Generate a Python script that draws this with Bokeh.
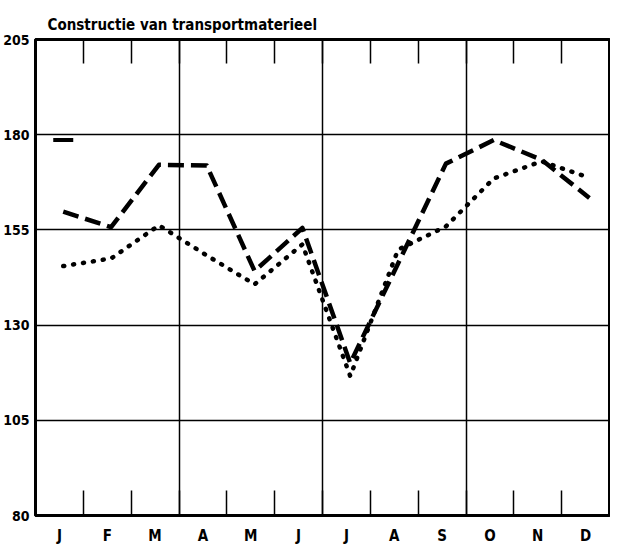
from bokeh.plotting import figure
from bokeh.models import FixedTicker, LinearAxis, Range1d, Grid
from bokeh.embed import file_html
from bokeh.resources import INLINE

# ---- data -------------------------------------------------------------
title_text = "Constructie van transportmaterieel"
months = ["J", "F", "M", "A", "M", "J", "J", "A", "S", "O", "N", "D"]
series_dashed = [159.8, 155.7, 172.1, 171.9, 144.2, 155.5, 120.0, 146.2, 172.4, 178.6, 173.4, 163.4]
series_dotted = [145.5, 147.5, 156.2, 148.3, 140.7, 151.2, 116.6, 149.8, 155.9, 168.5, 173.0, 168.7]
reference_level = [178.6]          # short bar drawn at January
y_ticks = [80, 105, 130, 155, 180, 205]
quarter_bounds = [3, 6, 9]         # month index where a new quarter starts

# ---- derived positions ------------------------------------------------
FONT = "DejaVu Sans Condensed, Roboto, sans-serif"
x_idx = [i + 0.08 for i in range(len(months))]
month_bounds = [i + 0.5 for i in range(len(months) - 1)]
label_ticks = [float(i) for i in range(len(months))]

p = figure(width=610, height=547, output_backend="svg", toolbar_location=None,
           x_range=Range1d(-0.5, len(months) - 0.5),
           y_range=Range1d(y_ticks[0], y_ticks[-1]),
           x_axis_location=None, y_axis_location=None,
           min_border_left=34, min_border_right=1, min_border_top=39, min_border_bottom=24)

p.background_fill_color = "white"
p.border_fill_color = "white"
p.outline_line_color = "black"
p.outline_line_width = 3

# title
p.title.text = title_text
p.title.text_color = "black"
p.title.text_font = FONT
p.title.text_font_size = "15px"
p.title.text_font_style = "bold"
p.title.align = "left"
p.title.offset = 12
p.title.standoff = 11

# left axis with value labels
yax = LinearAxis(ticker=FixedTicker(ticks=y_ticks))
yax.axis_line_width = 3
yax.major_tick_line_color = None
yax.minor_tick_line_color = None
yax.major_label_standoff = 0
yax.major_label_text_color = "black"
yax.major_label_text_font = FONT
yax.major_label_text_font_style = "bold"
yax.major_label_text_font_size = "14px"
p.add_layout(yax, "left")


def tick_axis(length):
    ax = LinearAxis(ticker=FixedTicker(ticks=month_bounds))
    ax.axis_line_width = 3
    ax.major_tick_in = length
    ax.major_tick_out = 0
    ax.major_tick_line_width = 1.5
    ax.minor_tick_line_color = None
    ax.major_label_text_font_size = "0px"
    ax.major_label_text_color = None
    ax.major_label_standoff = 0
    return ax


p.add_layout(tick_axis(24), "above")
p.add_layout(tick_axis(25), "below")

# bottom month-label axis
lax = LinearAxis(ticker=FixedTicker(ticks=label_ticks))
lax.axis_line_color = None
lax.major_tick_line_color = None
lax.minor_tick_line_color = None
lax.major_label_overrides = {t: m for t, m in zip(label_ticks, months)}
lax.major_label_standoff = 5
lax.major_label_text_color = "black"
lax.major_label_text_font = FONT
lax.major_label_text_font_style = "bold"
lax.major_label_text_font_size = "15px"
p.add_layout(lax, "below")

# grid
p.xgrid.visible = False
p.ygrid.visible = False
p.add_layout(Grid(dimension=0, ticker=FixedTicker(ticks=[b - 0.5 for b in quarter_bounds]),
                  grid_line_color="black", grid_line_width=1.5), "center")
p.add_layout(Grid(dimension=1, ticker=FixedTicker(ticks=y_ticks[1:-1]),
                  grid_line_color="black", grid_line_width=1.5), "center")

# series
p.line(x_idx, series_dashed, line_color="black", line_width=4.5, line_dash="16 7",
       line_join="round")
p.line(x_idx, series_dotted, line_color="black", line_width=4.5, line_dash="1 9",
       line_cap="round", line_join="round")
p.scatter(x_idx[:1], reference_level, marker="dash", size=20, line_width=4,
          line_color="black")

open("out.html", "w").write(file_html(p, INLINE))
